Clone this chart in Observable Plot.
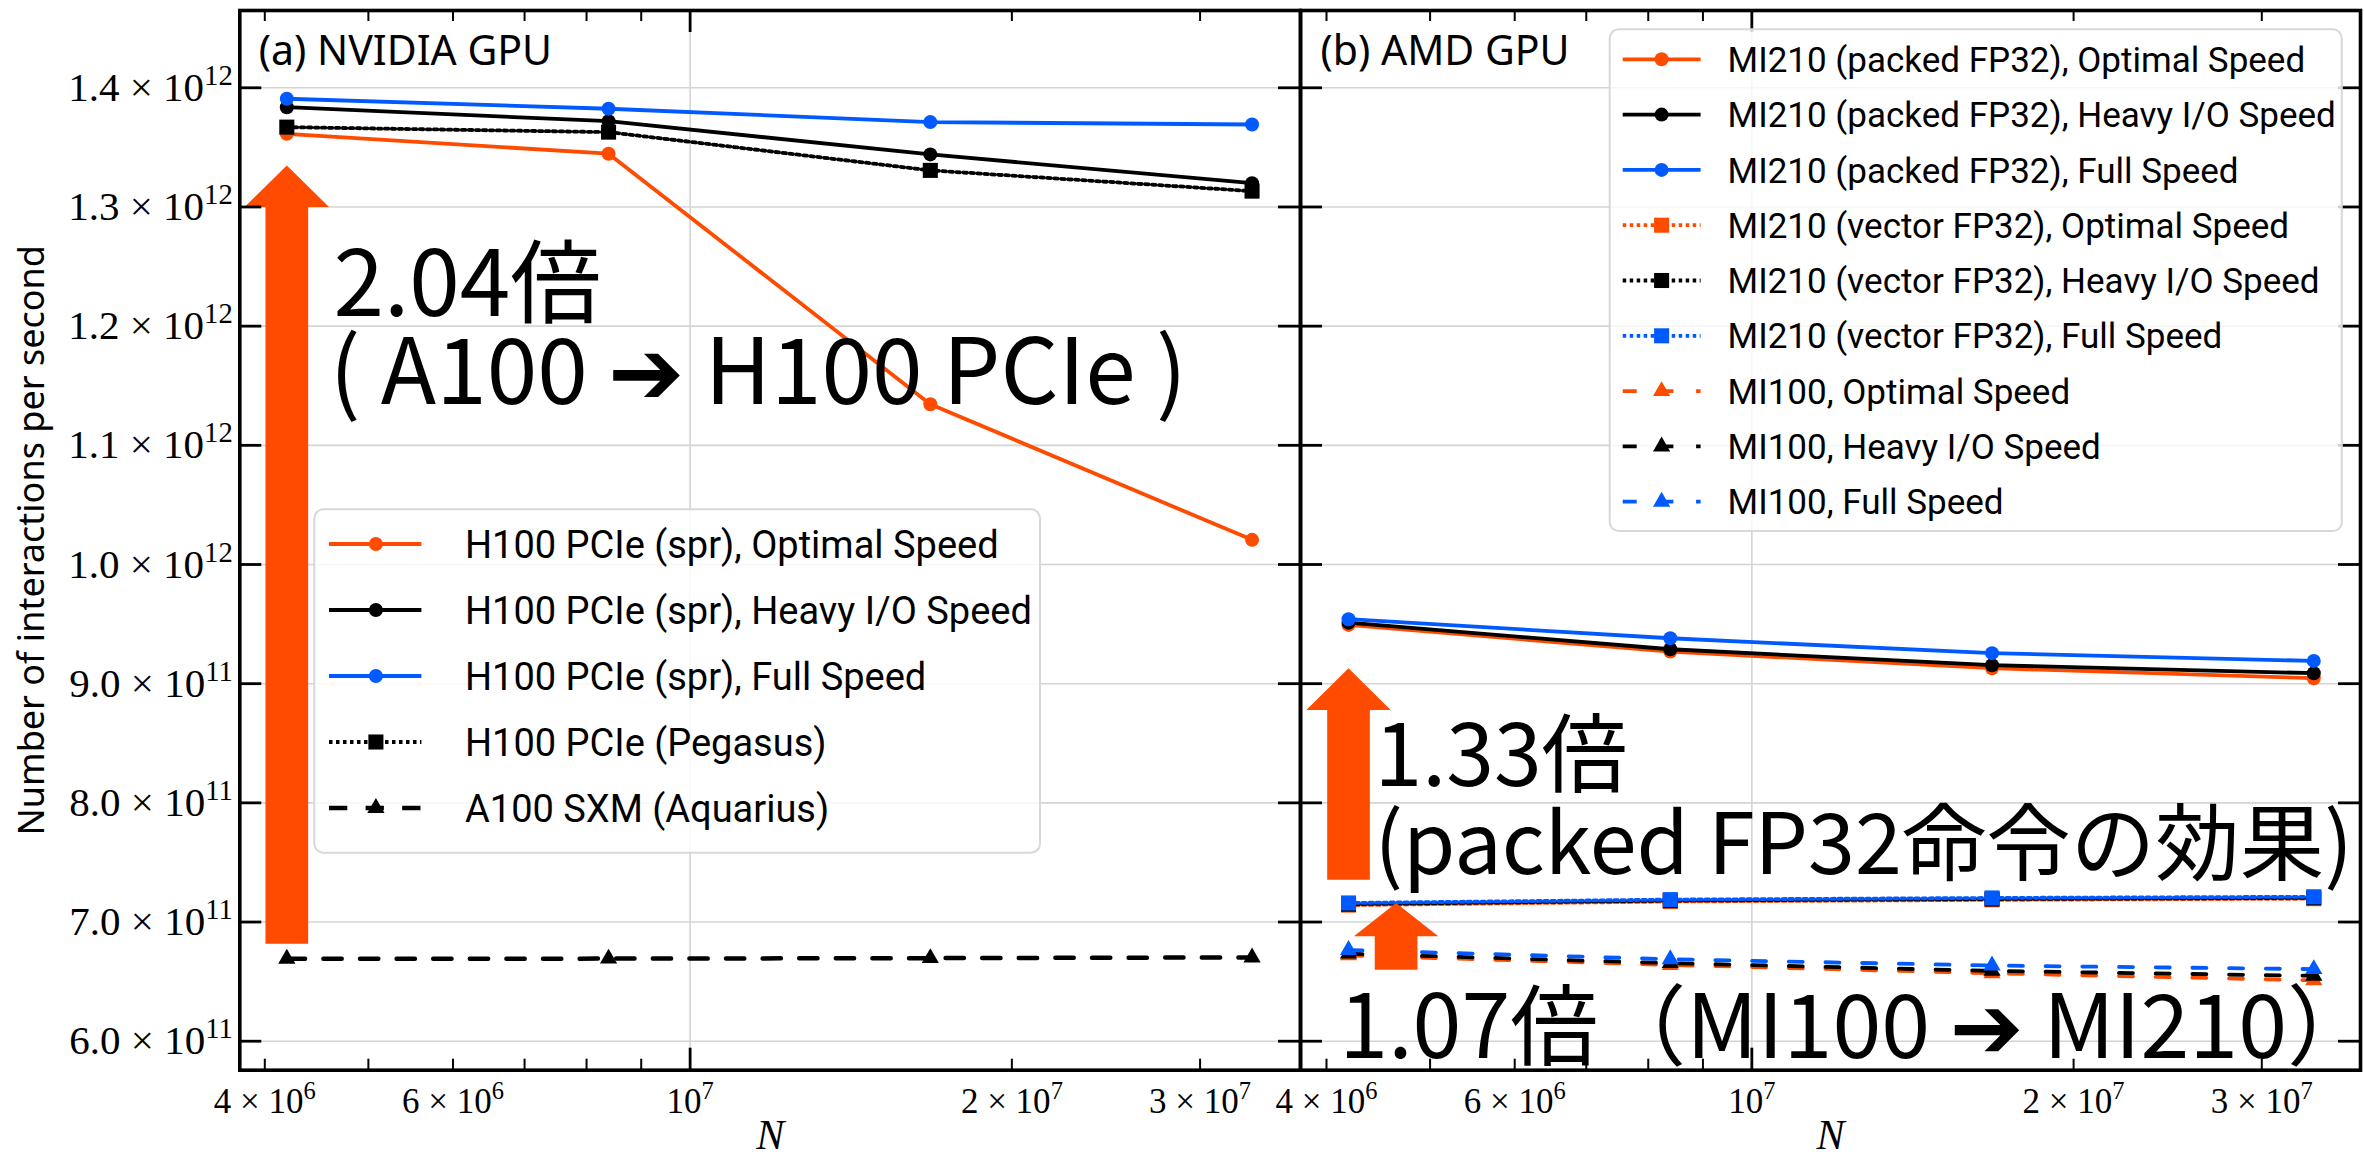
<!DOCTYPE html>
<html><head><meta charset="utf-8">
<script src="https://cdn.jsdelivr.net/npm/d3@7"></script>
<script src="https://cdn.jsdelivr.net/npm/@observablehq/plot@0.6"></script>
<style>
html,body{margin:0;padding:0;background:#fff;}
#wrap{position:relative;width:2364px;height:1158px;overflow:hidden;background:#fff;}
#wrap svg{position:absolute;top:0;overflow:visible;}
</style></head><body><div id="wrap"></div>
<script>
// ---------------- data ----------------
const N = [4194304, 8388608, 16777216, 33554432];

// (a) NVIDIA GPU
const h100SprOptimal = [1.3614e12, 1.3447e12, 1.1345e12, 1.0207e12];
const h100SprHeavyIO = [1.3837e12, 1.3720e12, 1.3441e12, 1.3200e12];
const h100SprFull    = [1.3908e12, 1.3824e12, 1.3712e12, 1.3692e12];
const h100Pegasus    = [1.3670e12, 1.3628e12, 1.3307e12, 1.3133e12];
const a100Aquarius   = [0.6692e12, 0.6693e12, 0.6697e12, 0.6703e12];

// (b) AMD GPU
const mi210PackedOptimal = [0.9493e12, 0.9269e12, 0.9130e12, 0.9046e12];
const mi210PackedHeavyIO = [0.9512e12, 0.9289e12, 0.9155e12, 0.9088e12];
const mi210PackedFull    = [0.9541e12, 0.9381e12, 0.9256e12, 0.9191e12];
const mi210VectorOptimal = [0.7142e12, 0.7172e12, 0.7186e12, 0.7196e12];
const mi210VectorHeavyIO = [0.7150e12, 0.7180e12, 0.7193e12, 0.7203e12];
const mi210VectorFull    = [0.7160e12, 0.7188e12, 0.7202e12, 0.7212e12];
const mi100Optimal = [0.6720e12, 0.6640e12, 0.6570e12, 0.6511e12];
const mi100HeavyIO = [0.6735e12, 0.6655e12, 0.6590e12, 0.6548e12];
const mi100Full    = [0.6765e12, 0.6688e12, 0.6635e12, 0.6605e12];

// ticks
const yTicks = [6e11, 7e11, 8e11, 9e11, 1e12, 1.1e12, 1.2e12, 1.3e12, 1.4e12];
const yTickLabels = ["6.0 × 10^11","7.0 × 10^11","8.0 × 10^11","9.0 × 10^11","1.0 × 10^12","1.1 × 10^12","1.2 × 10^12","1.3 × 10^12","1.4 × 10^12"];
const xLabelTicks = [4e6, 6e6, 1e7, 2e7, 3e7];
const xTickLabels = ["4 × 10^6", "6 × 10^6", "10^7", "2 × 10^7", "3 × 10^7"];
const xMajorTicks = [1e7];
const xMinorTicks = [4e6, 5e6, 6e6, 7e6, 8e6, 9e6, 2e7, 3e7];

// annotations
const arrowsA = [{x: 4194304, base: 0.6813e12, tip: 1.3349e12}];
const arrowsB = [{x: 4194304, base: 0.7350e12, tip: 0.9130e12}, {x: 4.647e6, base: 0.6595e12, tip: 0.7160e12}];
const notesA = [
  {x: 4.638e6, y: 1.2330e12, text: "2.04倍", size: 91},
  {x: 4.60e6, y: 1.1588e12, text: "( A100 ➔ H100 PCIe )", size: 91}
];
const notesB = [
  {x: 4.436e6, y: 0.8371e12, text: "1.33倍", size: 86},
  {x: 4.436e6, y: 0.7634e12, text: "(packed FP32命令の効果)", size: 84.5},
  {x: 4.112e6, y: 0.6094e12, text: "1.07倍（MI100 ➔ MI210）", size: 88}
];

// ---------------- styles ----------------
const SERIF = "'Liberation Serif','DejaVu Serif',serif";
const SANS = "'Noto Sans','Noto Sans CJK JP',sans-serif";
const LEG = "Roboto,'Noto Sans',sans-serif";
const CJK = "'Noto Sans CJK JP','DejaVu Sans',sans-serif";
const ORANGE = "#ff4b00", BLUE = "#005aff", BLACK = "#000000", GRID = "#d4d4d4";
const LINE = {
  solid:  {dash: null, lw: 3.8},
  dotted: {dash: "3.5,3.5", lw: 3.8},
  dashA:  {dash: "18.3,18.3", lw: 4.5},
  dashB:  {dash: "14,22.7", lw: 3.8}
};
const MARK = {circle: 7, square: 8.5, triangle: 6.4};

const seriesA = [
  {label: "H100 PCIe (spr), Optimal Speed", values: h100SprOptimal, color: ORANGE, line: "solid", symbol: "circle"},
  {label: "H100 PCIe (spr), Heavy I/O Speed", values: h100SprHeavyIO, color: BLACK, line: "solid", symbol: "circle"},
  {label: "H100 PCIe (spr), Full Speed", values: h100SprFull, color: BLUE, line: "solid", symbol: "circle"},
  {label: "H100 PCIe (Pegasus)", values: h100Pegasus, color: BLACK, line: "dotted", symbol: "square"},
  {label: "A100 SXM (Aquarius)", values: a100Aquarius, color: BLACK, line: "dashA", symbol: "triangle"}
];
const seriesB = [
  {label: "MI210 (packed FP32), Optimal Speed", values: mi210PackedOptimal, color: ORANGE, line: "solid", symbol: "circle"},
  {label: "MI210 (packed FP32), Heavy I/O Speed", values: mi210PackedHeavyIO, color: BLACK, line: "solid", symbol: "circle"},
  {label: "MI210 (packed FP32), Full Speed", values: mi210PackedFull, color: BLUE, line: "solid", symbol: "circle"},
  {label: "MI210 (vector FP32), Optimal Speed", values: mi210VectorOptimal, color: ORANGE, line: "dotted", symbol: "square"},
  {label: "MI210 (vector FP32), Heavy I/O Speed", values: mi210VectorHeavyIO, color: BLACK, line: "dotted", symbol: "square"},
  {label: "MI210 (vector FP32), Full Speed", values: mi210VectorFull, color: BLUE, line: "dotted", symbol: "square"},
  {label: "MI100, Optimal Speed", values: mi100Optimal, color: ORANGE, line: "dashB", symbol: "triangle"},
  {label: "MI100, Heavy I/O Speed", values: mi100HeavyIO, color: BLACK, line: "dashB", symbol: "triangle"},
  {label: "MI100, Full Speed", values: mi100Full, color: BLUE, line: "dashB", symbol: "triangle"}
];

const H = 1158, MT = 10, MB = 88.3;
const PH = H - MT - MB;
const Y_DOMAIN = [0.57567e12, 1.46486e12];

function headSymbol(w, h) {
  return {draw(ctx) { ctx.moveTo(0, 0); ctx.lineTo(w / 2, h); ctx.lineTo(-w / 2, h); ctx.closePath(); }};
}

function panel({series, arrows, heads, notes, title, titleDx, yLabels, width, ml, mr, xDomain}) {
  const PW = width - ml - mr;
  const marks = [
    Plot.ruleY(yTicks, {y: d => d, stroke: GRID, strokeWidth: 1.6}),
    Plot.ruleX(xMajorTicks, {x: d => d, stroke: GRID, strokeWidth: 1.6})
  ];
  for (const s of series) {
    const rows = N.map((x, i) => ({x, y: s.values[i]}));
    const st = LINE[s.line];
    marks.push(Plot.line(rows, {x: "x", y: "y", stroke: s.color, strokeWidth: st.lw, strokeDasharray: st.dash, strokeLinejoin: "round"}));
    marks.push(Plot.dot(rows, {x: "x", y: "y", symbol: s.symbol, r: MARK[s.symbol], fill: s.color, stroke: "none"}));
  }
  arrows.forEach((a, i) => {
    marks.push(Plot.ruleX([a], {x: "x", y1: "tip", y2: "base", stroke: ORANGE, strokeWidth: 42.7, insetTop: heads[i] - 1}));
    marks.push(Plot.dot([a], {x: "x", y: "tip", symbol: headSymbol(84.4, heads[i]), r: 1, fill: ORANGE, stroke: "none"}));
  });
  for (const n of notes) {
    marks.push(Plot.text([n], {x: "x", y: "y", text: "text", textAnchor: "start", lineAnchor: "middle", fontSize: n.size, fontFamily: CJK, fill: "black"}));
  }
  // ticks (inward)
  marks.push(Plot.tickY(yTicks, {y: d => d, stroke: "black", strokeWidth: 2.8, insetRight: PW - 22}));
  marks.push(Plot.tickY(yTicks, {y: d => d, stroke: "black", strokeWidth: 2.8, insetLeft: PW - 22}));
  marks.push(Plot.tickX(xMajorTicks, {x: d => d, stroke: "black", strokeWidth: 2.8, insetTop: PH - 22}));
  marks.push(Plot.tickX(xMajorTicks, {x: d => d, stroke: "black", strokeWidth: 2.8, insetBottom: PH - 22}));
  marks.push(Plot.tickX(xMinorTicks, {x: d => d, stroke: "black", strokeWidth: 2, insetTop: PH - 11}));
  marks.push(Plot.tickX(xMinorTicks, {x: d => d, stroke: "black", strokeWidth: 2, insetBottom: PH - 11}));
  marks.push(Plot.frame({stroke: "black", strokeWidth: 3.6}));
  // axes labels
  const xl = new Map(xLabelTicks.map((v, i) => [v, xTickLabels[i]]));
  marks.push(Plot.axisX({ticks: xLabelTicks, tickFormat: d => xl.get(d), tickSize: 0, tickPadding: 18, fontSize: 35, fontFamily: SERIF, label: null}));
  if (yLabels) {
    const yl = new Map(yTicks.map((v, i) => [v, yTickLabels[i]]));
    marks.push(Plot.axisY({ticks: yTicks, tickFormat: d => yl.get(d), tickSize: 0, tickPadding: 7, fontSize: 41, fontFamily: SERIF, label: null}));
    marks.push(Plot.text(["Number of interactions per second"], {text: d => d, frameAnchor: "left", dx: -207, rotate: -90, textAnchor: "middle", lineAnchor: "middle", fontSize: 36, fontFamily: SANS}));
  }
  marks.push(Plot.text(["N"], {text: d => d, frameAnchor: "bottom", dy: 65, lineAnchor: "middle", fontSize: 42, fontStyle: "italic", fontFamily: SERIF}));
  marks.push(Plot.text([title], {text: d => d, frameAnchor: "top-left", dx: titleDx, dy: 25, textAnchor: "start", lineAnchor: "top", fontSize: 41, fontFamily: SANS}));
  return Plot.plot({
    width, height: H, marginLeft: ml, marginRight: mr, marginTop: MT, marginBottom: MB,
    style: {fontFamily: SANS, background: "transparent", overflow: "visible"},
    x: {type: "log", domain: xDomain},
    y: {type: "linear", domain: Y_DOMAIN, axis: yLabels ? undefined : null},
    marks
  });
}

function superscriptify(svgEl) {
  const ns = "http://www.w3.org/2000/svg";
  svgEl.querySelectorAll("text").forEach(t => {
    const s = t.textContent; const k = s.indexOf("^");
    if (k < 0) return;
    t.textContent = "";
    const a = document.createElementNS(ns, "tspan"); a.textContent = s.slice(0, k); t.appendChild(a);
    const b = document.createElementNS(ns, "tspan"); b.textContent = s.slice(k + 1);
    b.setAttribute("dy", "-0.56em"); b.setAttribute("font-size", "0.7em"); t.appendChild(b);
  });
}

const wrap = document.getElementById("wrap");
const svgA = panel({series: seriesA, arrows: arrowsA, heads: [41.7], notes: notesA, title: "(a) NVIDIA GPU", titleDx: 19, yLabels: true, width: 1302, ml: 239.3, mr: 2, xDomain: [3.7903e6, 3.7245e7]});
const svgB = panel({series: seriesB, arrows: arrowsB, heads: [41.7, 33.4], notes: notesB, title: "(b) AMD GPU", titleDx: 20, yLabels: false, width: 1066, ml: 2, mr: 4, xDomain: [3.7821e6, 3.7107e7]});
svgA.style.left = "0px"; svgB.style.left = "1298px";
superscriptify(svgA); superscriptify(svgB);
wrap.appendChild(svgA); wrap.appendChild(svgB);

// ---------------- legends ----------------
const SYM = {circle: d3.symbolCircle, square: d3.symbolSquare, triangle: d3.symbolTriangle};
const over = d3.select(wrap).append("svg").attr("width", 2364).attr("height", H).style("left", "0px").style("pointer-events", "none");
function legend(items, L) {
  const g = over.append("g");
  g.append("rect").attr("x", L.x).attr("y", L.y).attr("width", L.w).attr("height", L.h).attr("rx", 9)
    .attr("fill", "white").attr("fill-opacity", 0.82).attr("stroke", "#d8d8d8").attr("stroke-width", 2);
  items.forEach((s, i) => {
    const y = L.row0 + L.dy * i, st = LINE[s.line];
    g.append("line").attr("x1", L.hx1).attr("x2", L.hx2).attr("y1", y).attr("y2", y)
      .attr("stroke", s.color).attr("stroke-width", st.lw).attr("stroke-dasharray", st.dash);
    g.append("path").attr("d", d3.symbol(SYM[s.symbol], Math.PI * MARK[s.symbol] ** 2)())
      .attr("transform", `translate(${L.mx},${y})`).attr("fill", s.color);
    g.append("text").attr("x", L.tx).attr("y", y).attr("dy", "0.36em").attr("font-size", L.fs)
      .attr("font-family", LEG).attr("fill", "black").text(s.label);
  });
}
legend(seriesA, {x: 314.3, y: 509.3, w: 725.7, h: 343.4, row0: 544, dy: 66, hx1: 329, hx2: 421.4, mx: 375.9, tx: 465, fs: 38});
legend(seriesB, {x: 1609.7, y: 29.3, w: 732.1, h: 501.7, row0: 59.3, dy: 55.3, hx1: 1622.7, hx2: 1700.6, mx: 1661.6, tx: 1727.6, fs: 35});
</script></body></html>
